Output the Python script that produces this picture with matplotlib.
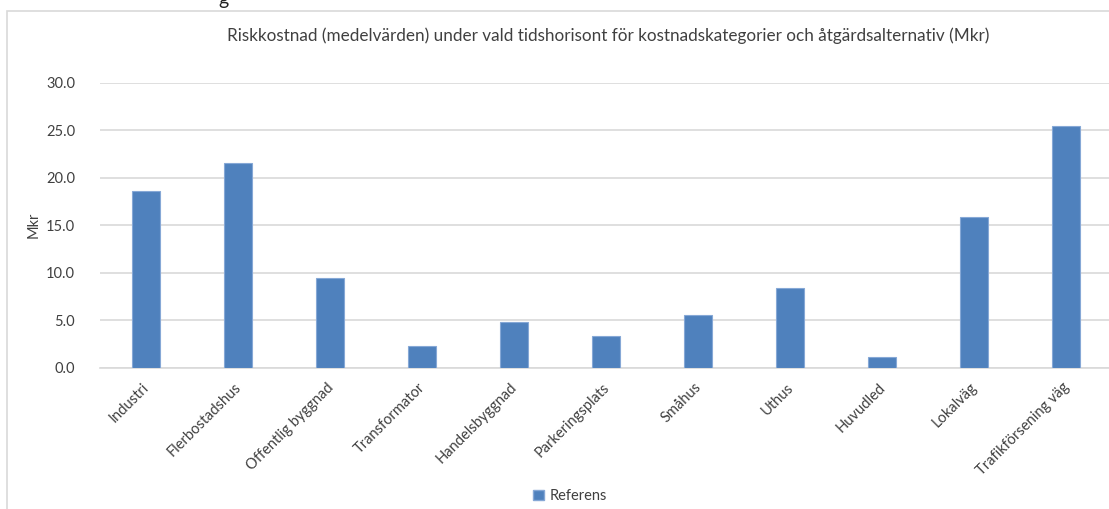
import matplotlib
matplotlib.use('Agg')
import matplotlib.pyplot as plt
import matplotlib.transforms as mtransforms
from matplotlib.patches import Rectangle, Patch

categories = ['Industri', 'Flerbostadshus', 'Offentlig byggnad', 'Transformator',
              'Handelsbyggnad', 'Parkeringsplats', 'Småhus', 'Uthus', 'Huvudled',
              'Lokalväg', 'Trafikförsening väg']
referens = [18.6, 21.6, 9.5, 2.3, 4.85, 3.4, 5.55, 8.4, 1.1, 15.9, 25.5]
yticks = [0, 5, 10, 15, 20, 25, 30]

title = 'Riskkostnad (medelvärden) under vald tidshorisont för kostnadskategorier och åtgärdsalternativ (Mkr)'

plt.rcParams['font.family'] = ['Lato', 'DejaVu Sans']
text_color = '#404040'
grid_color = '#d9d9d9'
bar_color = '#4f81bd'

W, H = 1109, 509
fig = plt.figure(figsize=(W / 100, H / 100), dpi=100)

# chart area border (cropped on the right and bottom)
fig.patches.append(Rectangle((7 / W, -0.1), 1.2, 1 - 11 / H + 0.1, transform=fig.transFigure,
                             fill=False, edgecolor=grid_color, linewidth=1.2))
# leftover descender of a caption above the chart
fig.text(223 / W, 1 - 5 / H, 'g', fontsize=14, color='#222222', ha='center', va='baseline')

left, right = 100, 1112
top, bottom = 82.8, 367.8
ax = fig.add_axes([left / W, 1 - bottom / H, (right - left) / W, (bottom - top) / H])

x = list(range(len(categories)))
ax.bar(x, referens, width=0.31, color=bar_color, edgecolor='#86a8d6', linewidth=0.8,
       label='Referens', zorder=3)

ax.set_xlim(-0.5, len(categories) - 0.5)
ax.set_ylim(0, 30)
ax.set_yticks(yticks)
ax.set_yticklabels([f'{v:.1f}' for v in yticks])
ax.yaxis.grid(True, color=grid_color, linewidth=1.2, zorder=0)
ax.set_axisbelow(True)

for s in ['top', 'right', 'left']:
    ax.spines[s].set_visible(False)
ax.spines['bottom'].set_color(grid_color)
ax.spines['bottom'].set_linewidth(1.2)

ax.tick_params(axis='y', length=0, pad=18, labelsize=10.5, labelcolor=text_color)
ax.tick_params(axis='x', length=0, pad=9, labelsize=10.5, labelcolor=text_color)
ax.set_xticks(x)
ax.set_xticklabels(categories, rotation=45, ha='right', va='top')
shift = mtransforms.ScaledTranslation(6 / 100, 0, fig.dpi_scale_trans)
for lbl in ax.get_xticklabels():
    lbl.set_transform(lbl.get_transform() + shift)

ax.set_ylabel('Mkr', fontsize=10.5, color=text_color, labelpad=4)

fig.text(608 / W, 1 - 36 / H, title, fontsize=12.35, color=text_color, ha='center', va='center')

handles = [Patch(facecolor=bar_color, edgecolor='#86a8d6')]
fig.legend(handles, ['Referens'], loc='center', bbox_to_anchor=(570 / W, 1 - 496 / H),
           frameon=False, fontsize=10.5, handlelength=0.7, handleheight=0.7,
           handletextpad=0.4, labelcolor=text_color)

fig.savefig('out.png', dpi=100)
